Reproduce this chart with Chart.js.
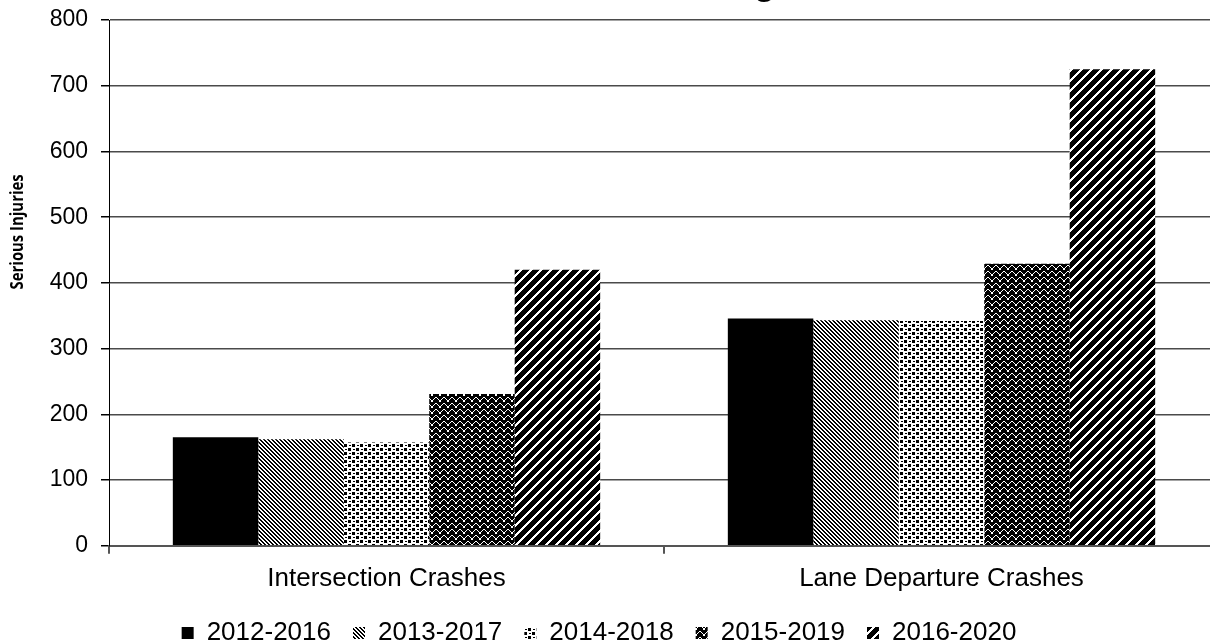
<!DOCTYPE html>
<html>
<head>
<meta charset="utf-8">
<script src="https://cdn.jsdelivr.net/npm/chart.js@4.4.1/dist/chart.umd.min.js"></script>
<style>
  html, body { margin: 0; padding: 0; background: #fff; overflow: hidden; width: 1210px; height: 644px; }
  #wrap { position: absolute; left: -28px; top: 0; width: 1247px; height: 661px; }
</style>
</head>
<body>
<div id="wrap"><canvas id="chart"></canvas></div>
<script>
// data
const chartTitle = "Five-Year Average";
const yTitle = "Serious Injuries";
const categories = ["Intersection Crashes", "Lane Departure Crashes"];
const periods = ["2012-2016", "2013-2017", "2014-2018", "2015-2019", "2016-2020"];
const values2012 = [165, 346];
const values2013 = [162, 343];
const values2014 = [157, 342];
const values2015 = [231, 429];
const values2016 = [420, 725];
const yTicks = [0, 100, 200, 300, 400, 500, 600, 700, 800];

// small bitmap fills, like the old office patterns
function makePattern(w, h, isBlack) {
  const tile = document.createElement("canvas");
  tile.width = w;
  tile.height = h;
  const tctx = tile.getContext("2d");
  tctx.fillStyle = "#fff";
  tctx.fillRect(0, 0, w, h);
  tctx.fillStyle = "#000";
  for (let y = 0; y < h; y++) {
    for (let x = 0; x < w; x++) {
      if (isBlack(x, y)) tctx.fillRect(x, y, 1, 1);
    }
  }
  return document.createElement("canvas").getContext("2d").createPattern(tile, "repeat");
}

const zig = [0, 1, 2, 3, 3, 2, 1, 0];
const fills = [
  "#000",
  makePattern(4, 4, (x, y) => (((x - y) % 4) + 4) % 4 < 2),
  makePattern(8, 8, (x, y) =>
    (x <= 2 && y <= 2) ||
    (x >= 4 && x <= 6 && y >= 4 && y <= 6) ||
    (y === 1 && (x === 5 || x === 6)) ||
    (y === 5 && (x === 1 || x === 2)),
  ),
  makePattern(8, 6, (x, y) => !(y === zig[x] + 1 || (y === zig[x] + 2 && (x === 3 || x === 4)))),
  makePattern(10, 10, (x, y) => (x + y) % 10 < 7),
];

const seriesValues = [values2012, values2013, values2014, values2015, values2016];

const textPlugin = {
  id: "chartText",
  afterLayout(chart) {
    // pull the legend up a little closer to the category labels
    chart.legend.top -= 5;
    chart.legend.bottom -= 5;
  },
  afterDraw(chart) {
    const { ctx, chartArea, scales } = chart;
    const topY = scales.y.getPixelForValue(yTicks[yTicks.length - 1]);
    ctx.save();
    ctx.fillStyle = "#000";
    ctx.textAlign = "center";
    ctx.font = "bold 35.5px 'Liberation Sans', Arial, sans-serif";
    ctx.textBaseline = "alphabetic";
    // the title sits mostly above the picture, only its descenders show
    ctx.fillText(chartTitle, chartArea.left + chartArea.width * 0.48, topY - 25);
    ctx.translate(chartArea.left - 91, topY + (scales.y.bottom - topY) * 0.403);
    ctx.rotate(-Math.PI / 2);
    ctx.font = "bold 18px 'Open Sans', sans-serif";
    ctx.textBaseline = "middle";
    ctx.fillText(yTitle, 0, 0, 115);
    ctx.restore();
  },
};

new Chart(document.querySelector("#chart"), {
  type: "bar",
  data: {
    labels: categories,
    datasets: periods.map((period, index) => ({
      label: period,
      data: seriesValues[index],
      backgroundColor: fills[index],
      borderColor: "rgba(0,0,0,0)",
      borderWidth: 0,
      barPercentage: 1,
      categoryPercentage: 0.77,
    })),
  },
  options: {
    responsive: true,
    maintainAspectRatio: false,
    animation: false,
    layout: { padding: { top: 20, left: 7, right: 0, bottom: 0 } },
    scales: {
      x: {
        grid: { display: true, drawOnChartArea: false, offset: true, tickLength: 8, color: "#555", lineWidth: 2 },
        border: { color: "#555", width: 2 },
        ticks: { color: "#000", padding: 9, font: { family: "'Liberation Sans', Arial, sans-serif", size: 26 } },
      },
      y: {
        min: 0,
        max: 800,
        afterBuildTicks: (axis) => {
          axis.ticks = yTicks.map((value) => ({ value }));
        },
        afterFit: (axis) => {
          axis.width = 130;
          axis.paddingTop = 0;
          axis.paddingBottom = 0;
        },
        grid: { color: "#4a4a4a", lineWidth: 1.5, tickLength: 8, tickColor: "#000" },
        border: { color: "#000", width: 1 },
        ticks: { color: "#000", padding: 13, font: { family: "'Liberation Sans', Arial, sans-serif", size: 23 } },
      },
    },
    plugins: {
      tooltip: { enabled: false },
      legend: {
        position: "bottom",
        labels: {
          boxWidth: 12,
          boxHeight: 12,
          padding: 22,
          color: "#000",
          font: { family: "'Liberation Sans', Arial, sans-serif", size: 26 },
        },
      },
    },
  },
  plugins: [textPlugin],
});
</script>
</body>
</html>
